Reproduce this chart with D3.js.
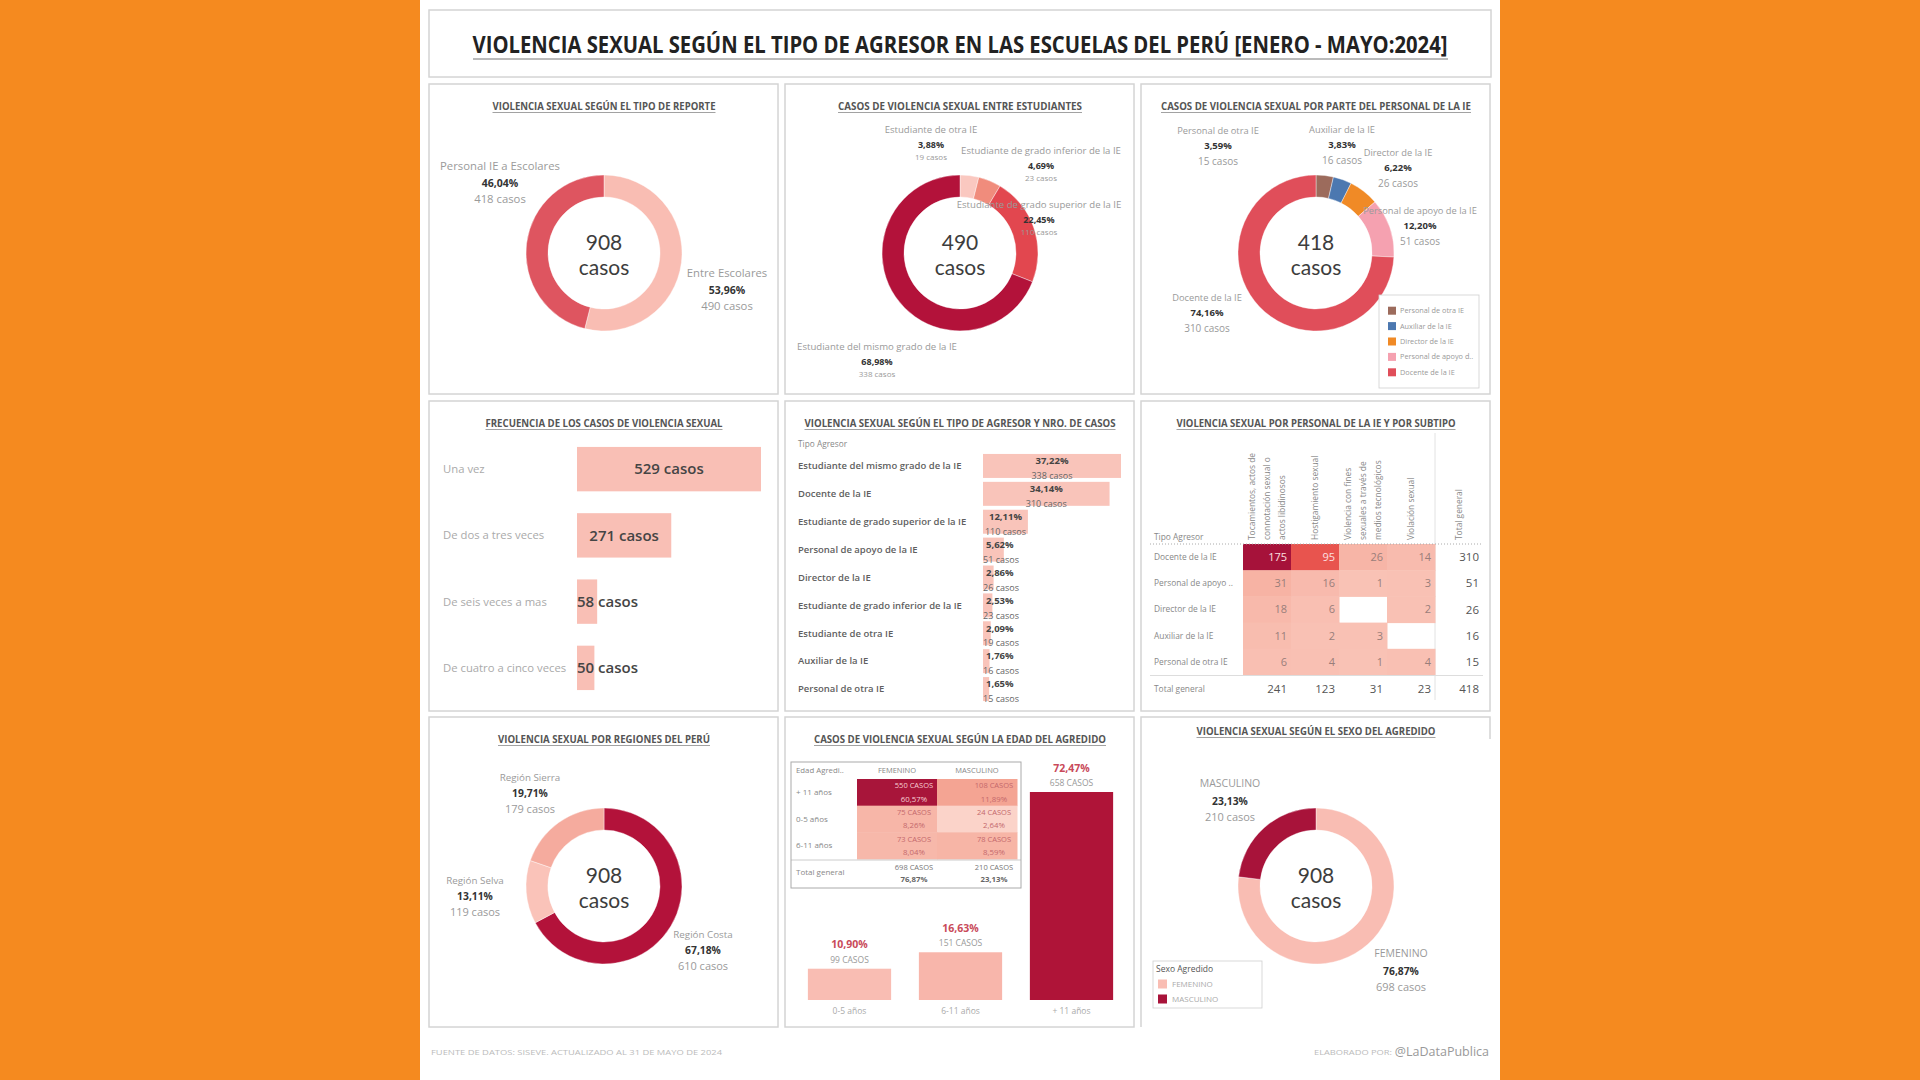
<!DOCTYPE html>
<html>
<head>
<meta charset="utf-8">
<script src="https://cdn.jsdelivr.net/npm/d3@7"></script>
<style>
  body { margin: 0; background: #F58A1F; }
  svg text { font-family: "Open Sans", Lato, sans-serif; }
</style>
</head>
<body>
<svg id="chart" width="1920" height="1080"></svg>
<script>
var reporteCats = ["Entre Escolares", "Personal IE a Escolares"];
var reporteCasos = [490, 418];

var estudianteCats = ["Estudiante de otra IE", "Estudiante de grado inferior de la IE",
  "Estudiante de grado superior de la IE", "Estudiante del mismo grado de la IE"];
var estudianteCasos = [19, 23, 110, 338];

var personalCats = ["Personal de otra IE", "Auxiliar de la IE", "Director de la IE",
  "Personal de apoyo de la IE", "Docente de la IE"];
var personalCasos = [15, 16, 26, 51, 310];
var personalLegend = ["Personal de otra IE", "Auxiliar de la IE", "Director de la IE",
  "Personal de apoyo d..", "Docente de la IE"];

var frecuenciaCats = ["Una vez", "De dos a tres veces", "De seis veces a mas", "De cuatro a cinco veces"];
var frecuenciaCasos = [529, 271, 58, 50];

var agresorCats = ["Estudiante del mismo grado de la IE", "Docente de la IE",
  "Estudiante de grado superior de la IE", "Personal de apoyo de la IE", "Director de la IE",
  "Estudiante de grado inferior de la IE", "Estudiante de otra IE", "Auxiliar de la IE",
  "Personal de otra IE"];
var agresorCasos = [338, 310, 110, 51, 26, 23, 19, 16, 15];

var subtipoHeaders = [
  ["Tocamientos, actos de", "connotación sexual o", "actos libidinosos"],
  ["Hostigamiento sexual"],
  ["Violencia con fines", "sexuales a través de", "medios tecnológicos"],
  ["Violación sexual"],
  ["Total general"]
];
var heatRows = ["Docente de la IE", "Personal de apoyo ..", "Director de la IE", "Auxiliar de la IE", "Personal de otra IE"];
var heatValues = [
  [175, 95, 26, 14],
  [31, 16, 1, 3],
  [18, 6, null, 2],
  [11, 2, 3, null],
  [6, 4, 1, 4]
];

var regionCats = ["Región Costa", "Región Selva", "Región Sierra"];
var regionCasos = [610, 119, 179];

var edadTablaCats = ["+ 11 años", "0-5 años", "6-11 años"];
var edadFemenino = [550, 75, 73];
var edadMasculino = [108, 24, 78];
var edadBarCats = ["0-5 años", "6-11 años", "+ 11 años"];

var sexoCats = ["FEMENINO", "MASCULINO"];
var sexoCasos = [698, 210];

var TOTAL = 908;

// ---- helpers ----
var svg = d3.select("#chart");
var fmt2 = d3.format(".2f");
function pct(v, t) { return fmt2(v / t * 100).replace(".", ",") + "%"; }

function txt(x, y, s, o) {
  o = o || {};
  var t = svg.append("text").attr("x", x).attr("y", y)
    .attr("text-anchor", o.anchor || "middle")
    .attr("font-size", o.size || 10)
    .attr("font-weight", o.weight || 400)
    .attr("fill", o.color || "#888")
    .text(s);
  if (o.dy !== false) t.attr("dy", "0.35em");
  if (o.len) t.attr("textLength", o.len).attr("lengthAdjust", "spacingAndGlyphs");
  if (o.family) t.style("font-family", o.family);
  return t;
}

function panelTitle(cx, cy, s, len) {
  txt(cx, cy, s, {size: 10.5, weight: 700, color: "#555", len: len});
  svg.append("line").attr("x1", cx - len / 2).attr("x2", cx + len / 2)
    .attr("y1", cy + 6.5).attr("y2", cy + 6.5).attr("stroke", "#8a8a8a").attr("stroke-width", 0.8);
}

function donut(cx, cy, values, colors, centerLabel) {
  var arcs = d3.pie().sort(null)(values);
  var arc = d3.arc().innerRadius(56).outerRadius(78);
  svg.append("g").attr("transform", "translate(" + cx + "," + cy + ")")
    .selectAll("path").data(arcs).enter().append("path")
    .attr("d", arc)
    .attr("fill", function(d, i) { return colors[i]; })
    .attr("stroke", "#fff").attr("stroke-width", 0.4);
  txt(cx, cy - 3, centerLabel, {size: 21, color: "#3d3d3d", dy: false, family: "Lato, sans-serif"});
  txt(cx, cy + 22, "casos", {size: 21, color: "#3d3d3d", dy: false, family: "Lato, sans-serif"});
}

// name / pct / casos label around a donut
function donutLabels(cx, cy, cats, values, total, spots, st) {
  cats.forEach(function(c, i) {
    var x = cx + spots[i][0], y = cy + spots[i][1];
    txt(x, y - st.up, c, {size: st.name, color: "#9a9a9a"});
    txt(x, y, pct(values[i], total), {size: st.pct, weight: 700, color: "#333"});
    txt(x, y + st.down, values[i] + " casos", {size: st.casos, color: "#9a9a9a"});
  });
}

// ---- page, boxes ----
svg.append("rect").attr("x", 420).attr("y", 0).attr("width", 1080).attr("height", 1080).attr("fill", "#fff");
svg.append("rect").attr("x", 429).attr("y", 10).attr("width", 1062).attr("height", 67)
  .attr("fill", "none").attr("stroke", "#d4d4d4").attr("stroke-width", 1.5);

var px = [429, 785, 1141], py = [84, 401, 717], pw = 349, ph = 310;
py.forEach(function(y, r) {
  px.forEach(function(x, c) {
    if (r === 2 && c === 2) {
      svg.append("path").attr("d", "M" + x + "," + (y + ph) + "V" + y + "H" + (x + pw) + "v22")
        .attr("fill", "none").attr("stroke", "#d4d4d4").attr("stroke-width", 1.5);
    } else {
      svg.append("rect").attr("x", x).attr("y", y).attr("width", pw).attr("height", ph)
        .attr("fill", "none").attr("stroke", "#d4d4d4").attr("stroke-width", 1.5);
    }
  });
});

// main title
txt(960, 45, "VIOLENCIA SEXUAL SEGÚN EL TIPO DE AGRESOR EN LAS ESCUELAS DEL PERÚ [ENERO - MAYO:2024]",
  {size: 23, weight: 700, color: "#222", len: 975});
svg.append("line").attr("x1", 473).attr("x2", 1448).attr("y1", 59).attr("y2", 59)
  .attr("stroke", "#777").attr("stroke-width", 1);

// ---- panel 1: tipo de reporte ----
panelTitle(604, 106, "VIOLENCIA SEXUAL SEGÚN EL TIPO DE REPORTE", 223);
donut(604, 253, reporteCasos, ["#F9BDB3", "#DE5560"], TOTAL);
donutLabels(604, 253, reporteCats, reporteCasos, TOTAL, [[123, 37], [-104, -70]],
  {name: 11.3, pct: 10.5, casos: 11.3, up: 17, down: 16});

// ---- panel 2: entre estudiantes ----
panelTitle(960, 106, "CASOS DE VIOLENCIA SEXUAL ENTRE ESTUDIANTES", 244);
donut(960, 253, estudianteCasos, ["#FAC8C0", "#F08C7C", "#E2474F", "#B3123A"], d3.sum(estudianteCasos));
donutLabels(960, 253, estudianteCats, estudianteCasos, d3.sum(estudianteCasos),
  [[-29, -108], [81, -87], [79, -33], [-83, 109]],
  {name: 9.6, pct: 9, casos: 8, up: 15, down: 12});

// ---- panel 3: personal de la IE ----
var personalColors = ["#9C6B5C", "#4C78B0", "#F08A26", "#F5A1B0", "#E04E5A"];
panelTitle(1316, 106, "CASOS DE VIOLENCIA SEXUAL POR PARTE DEL PERSONAL DE LA IE", 310);
donut(1316, 253, personalCasos, personalColors, d3.sum(personalCasos));
donutLabels(1316, 253, personalCats, personalCasos, d3.sum(personalCasos),
  [[-98, -107], [26, -108], [82, -85], [104, -27], [-109, 60]],
  {name: 9.3, pct: 9.5, casos: 10, up: 15, down: 15});
svg.append("rect").attr("x", 1379).attr("y", 295).attr("width", 100).attr("height", 93)
  .attr("fill", "#fff").attr("stroke", "#cfcfcf").attr("stroke-width", 0.8);
var legY = d3.scaleBand().domain(personalLegend).range([303, 380]);
personalLegend.forEach(function(l, i) {
  var y = legY(l) + legY.bandwidth() / 2;
  svg.append("rect").attr("x", 1388).attr("y", y - 4).attr("width", 8).attr("height", 8).attr("fill", personalColors[i]);
  txt(1400, y, l, {anchor: "start", size: 7.3, color: "#999"});
});

// ---- panel 4: frecuencia ----
panelTitle(604, 423, "FRECUENCIA DE LOS CASOS DE VIOLENCIA SEXUAL", 237);
var y4 = d3.scaleBand().domain(frecuenciaCats).range([436, 701]).paddingInner(0.33).paddingOuter(0.165);
var x4 = d3.scaleLinear().domain([0, d3.max(frecuenciaCasos)]).range([577, 761]);
frecuenciaCats.forEach(function(c, i) {
  var v = frecuenciaCasos[i], yc = y4(c) + y4.bandwidth() / 2;
  svg.append("rect").attr("x", x4(0)).attr("y", y4(c)).attr("width", x4(v) - x4(0))
    .attr("height", y4.bandwidth()).attr("fill", "#F9BFB5");
  txt(443, yc, c, {anchor: "start", size: 11.3, color: "#aaa"});
  var t = txt((x4(0) + x4(v)) / 2, yc, v + " casos", {size: 15, weight: 600, color: "#454545"});
  if (t.node().getComputedTextLength() > x4(v) - x4(0) - 4) t.attr("text-anchor", "start").attr("x", x4(0));
});

// ---- panel 5: tipo de agresor ----
panelTitle(960, 423, "VIOLENCIA SEXUAL SEGÚN EL TIPO DE AGRESOR Y NRO. DE CASOS", 311);
txt(798, 444, "Tipo Agresor", {anchor: "start", size: 8.3, color: "#888"});
var y5 = d3.scaleBand().domain(agresorCats).range([452, 703]).paddingInner(0.14).paddingOuter(0.07);
var x5 = d3.scaleLinear().domain([0, d3.max(agresorCasos)]).range([983, 1121]);
agresorCats.forEach(function(c, i) {
  var v = agresorCasos[i], yc = y5(c) + y5.bandwidth() / 2, w = x5(v) - x5(0);
  svg.append("rect").attr("x", x5(0)).attr("y", y5(c)).attr("width", w)
    .attr("height", y5.bandwidth()).attr("fill", "#F9C4BA");
  txt(798, yc, c, {anchor: "start", size: 9.5, weight: 600, color: "#5f5f5f"});
  var a = txt(x5(0) + w / 2, yc - 5, pct(v, TOTAL), {size: 9.5, weight: 700, color: "#444"});
  var b = txt(x5(0) + w / 2, yc + 10, v + " casos", {size: 9, color: "#666"});
  if (a.node().getComputedTextLength() > w - 2) a.attr("text-anchor", "start").attr("x", x5(0) + 3);
  if (b.node().getComputedTextLength() > w - 2) b.attr("text-anchor", "start").attr("x", x5(0));
});

// ---- panel 6: heatmap ----
panelTitle(1316, 423, "VIOLENCIA SEXUAL POR PERSONAL DE LA IE Y POR SUBTIPO", 279);
var xH = d3.scaleBand().domain(d3.range(5)).range([1243, 1483]);
var yH = d3.scaleBand().domain(heatRows).range([544, 675]);
var heatColor = d3.scaleLinear().domain([1, 40, 95, 175])
  .range(["#F9C2B5", "#F6AE9F", "#E8544E", "#A6123A"]);
svg.append("line").attr("x1", 1435).attr("x2", 1435).attr("y1", 433).attr("y2", 700)
  .attr("stroke", "#e2e2e2").attr("stroke-width", 1);
txt(1154, 537, "Tipo Agresor", {anchor: "start", size: 8.4, color: "#888"});
subtipoHeaders.forEach(function(lines, j) {
  var mid = xH(j) + xH.bandwidth() / 2;
  lines.forEach(function(l, k) {
    var x = mid + (k - (lines.length - 1) / 2) * 15;
    svg.append("text").attr("transform", "translate(" + x + ",540) rotate(-90)")
      .attr("dy", "0.35em").attr("font-size", 8.4).attr("fill", "#888").text(l);
  });
});
heatRows.forEach(function(r, i) {
  var yc = yH(r) + yH.bandwidth() / 2;
  txt(1154, yc, r, {anchor: "start", size: 8.4, color: "#888"});
  heatValues[i].forEach(function(v, j) {
    if (v === null) return;
    svg.append("rect").attr("x", xH(j)).attr("y", yH(r)).attr("width", xH.bandwidth() + 0.5)
      .attr("height", yH.bandwidth() + 0.5).attr("fill", heatColor(v));
    txt(xH(j) + xH.bandwidth() - 4, yc, v, {anchor: "end", size: 11, color: v > 80 ? "#FBE0E0" : "#9A7E7A"});
  });
  txt(xH(4) + xH.bandwidth() - 4, yc, d3.sum(heatValues[i]), {anchor: "end", size: 11.5, color: "#555"});
});
svg.append("line").attr("x1", 1150).attr("x2", 1483).attr("y1", 544).attr("y2", 544)
  .attr("stroke", "#aaa").attr("stroke-dasharray", "1,2");
svg.append("line").attr("x1", 1150).attr("x2", 1483).attr("y1", 675.5).attr("y2", 675.5)
  .attr("stroke", "#ddd");
txt(1154, 689, "Total general", {anchor: "start", size: 8.4, color: "#888"});
d3.range(4).forEach(function(j) {
  txt(xH(j) + xH.bandwidth() - 4, 689, d3.sum(heatValues, function(r) { return r[j]; }), {anchor: "end", size: 11.5, color: "#555"});
});
txt(xH(4) + xH.bandwidth() - 4, 689, d3.sum(heatValues, function(r) { return d3.sum(r); }), {anchor: "end", size: 11.5, color: "#555"});

// ---- panel 7: regiones ----
panelTitle(604, 739, "VIOLENCIA SEXUAL POR REGIONES DEL PERÚ", 212);
donut(604, 886, regionCasos, ["#B3123A", "#FAC3B9", "#F5AB9E"], d3.sum(regionCasos));
donutLabels(604, 886, regionCats, regionCasos, d3.sum(regionCasos),
  [[99, 64], [-129, 10], [-74, -93]],
  {name: 9.8, pct: 10.3, casos: 11, up: 15, down: 16});

// ---- panel 8: edad del agredido ----
panelTitle(960, 739, "CASOS DE VIOLENCIA SEXUAL SEGÚN LA EDAD DEL AGREDIDO", 292);
var xT = d3.scaleBand().domain(sexoCats).range([857, 1017]);
var yT = d3.scaleBand().domain(edadTablaCats).range([779, 859]);
var tableColor = d3.scaleLinear().domain([24, 108, 550]).range(["#FBD3C9", "#F4A493", "#A8153A"]);
txt(796, 770, "Edad Agredi..", {anchor: "start", size: 7.8, color: "#888"});
sexoCats.forEach(function(s) { txt(xT(s) + xT.bandwidth() / 2, 770, s, {size: 7.5, color: "#888"}); });
edadTablaCats.forEach(function(a, i) {
  var yc = yT(a) + yT.bandwidth() / 2;
  txt(796, yc, a, {anchor: "start", size: 8, color: "#888"});
  [edadFemenino[i], edadMasculino[i]].forEach(function(v, j) {
    var s = sexoCats[j], cx = xT(s) + xT.bandwidth() - 23;
    svg.append("rect").attr("x", xT(s)).attr("y", yT(a)).attr("width", xT.bandwidth() + 0.5)
      .attr("height", yT.bandwidth() + 0.5).attr("fill", tableColor(v));
    var col = v > 300 ? "#F7CDD2" : "#C4686C";
    txt(cx, yc - 6.5, v + " CASOS", {size: 7.5, color: col});
    txt(cx, yc + 6.5, pct(v, TOTAL), {size: 7.8, color: col});
  });
});
svg.append("line").attr("x1", 791).attr("x2", 1021).attr("y1", 860).attr("y2", 860).attr("stroke", "#ccc");
txt(796, 872, "Total general", {anchor: "start", size: 8, color: "#888"});
[d3.sum(edadFemenino), d3.sum(edadMasculino)].forEach(function(v, j) {
  var cx = xT(sexoCats[j]) + xT.bandwidth() - 23;
  txt(cx, 867, v + " CASOS", {size: 7.5, color: "#777"});
  txt(cx, 879, pct(v, TOTAL), {size: 7.8, weight: 700, color: "#666"});
});
svg.append("rect").attr("x", 791).attr("y", 762).attr("width", 230).attr("height", 126)
  .attr("fill", "none").attr("stroke", "#aaa").attr("stroke-width", 1);

var edadBarVals = edadBarCats.map(function(c) {
  var i = edadTablaCats.indexOf(c);
  return edadFemenino[i] + edadMasculino[i];
});
var xB = d3.scaleBand().domain(edadBarCats).range([794, 1127]).paddingInner(0.25).paddingOuter(0.125);
var yB = d3.scaleLinear().domain([0, d3.max(edadBarVals)]).range([1000, 792]);
var barCol = ["#F9BDB3", "#F8B6AB", "#AF1438"];
edadBarCats.forEach(function(c, i) {
  var v = edadBarVals[i], cx = xB(c) + xB.bandwidth() / 2;
  svg.append("rect").attr("x", xB(c)).attr("y", yB(v)).attr("width", xB.bandwidth())
    .attr("height", yB(0) - yB(v)).attr("fill", barCol[i]);
  txt(cx, yB(v) - 24, pct(v, TOTAL), {size: 10.5, weight: 700, color: "#C94A5A"});
  txt(cx, yB(v) - 9, v + " CASOS", {size: 8.5, color: "#999"});
  txt(cx, 1011, c, {size: 8.5, color: "#aaa"});
});

// ---- panel 9: sexo del agredido ----
panelTitle(1316, 731, "VIOLENCIA SEXUAL SEGÚN EL SEXO DEL AGREDIDO", 239);
var sexoColors = ["#F9BDB3", "#A8133A"];
donut(1316, 886, sexoCasos, sexoColors, d3.sum(sexoCasos));
donutLabels(1316, 886, sexoCats, sexoCasos, d3.sum(sexoCasos), [[85, 85], [-86, -85]],
  {name: 10.5, pct: 10.3, casos: 11, up: 18, down: 16});
svg.append("rect").attr("x", 1153).attr("y", 961).attr("width", 109).attr("height", 47)
  .attr("fill", "#fff").attr("stroke", "#cfcfcf").attr("stroke-width", 0.8);
txt(1156, 969, "Sexo Agredido", {anchor: "start", size: 8.5, color: "#555"});
sexoCats.forEach(function(s, i) {
  var y = 984 + i * 15;
  svg.append("rect").attr("x", 1158).attr("y", y - 4.5).attr("width", 9).attr("height", 9).attr("fill", sexoColors[i]);
  txt(1172, y, s, {anchor: "start", size: 8, color: "#aaa"});
});

// ---- footer ----
txt(431, 1052, "FUENTE DE DATOS: SISEVE. ACTUALIZADO AL 31 DE MAYO DE 2024",
  {anchor: "start", size: 8, color: "#bbb", len: 291});
txt(1314, 1052, "ELABORADO POR:", {anchor: "start", size: 8, color: "#bbb", len: 78});
txt(1489, 1052, "@LaDataPublica", {anchor: "end", size: 12.5, color: "#999"});
</script>
</body>
</html>
